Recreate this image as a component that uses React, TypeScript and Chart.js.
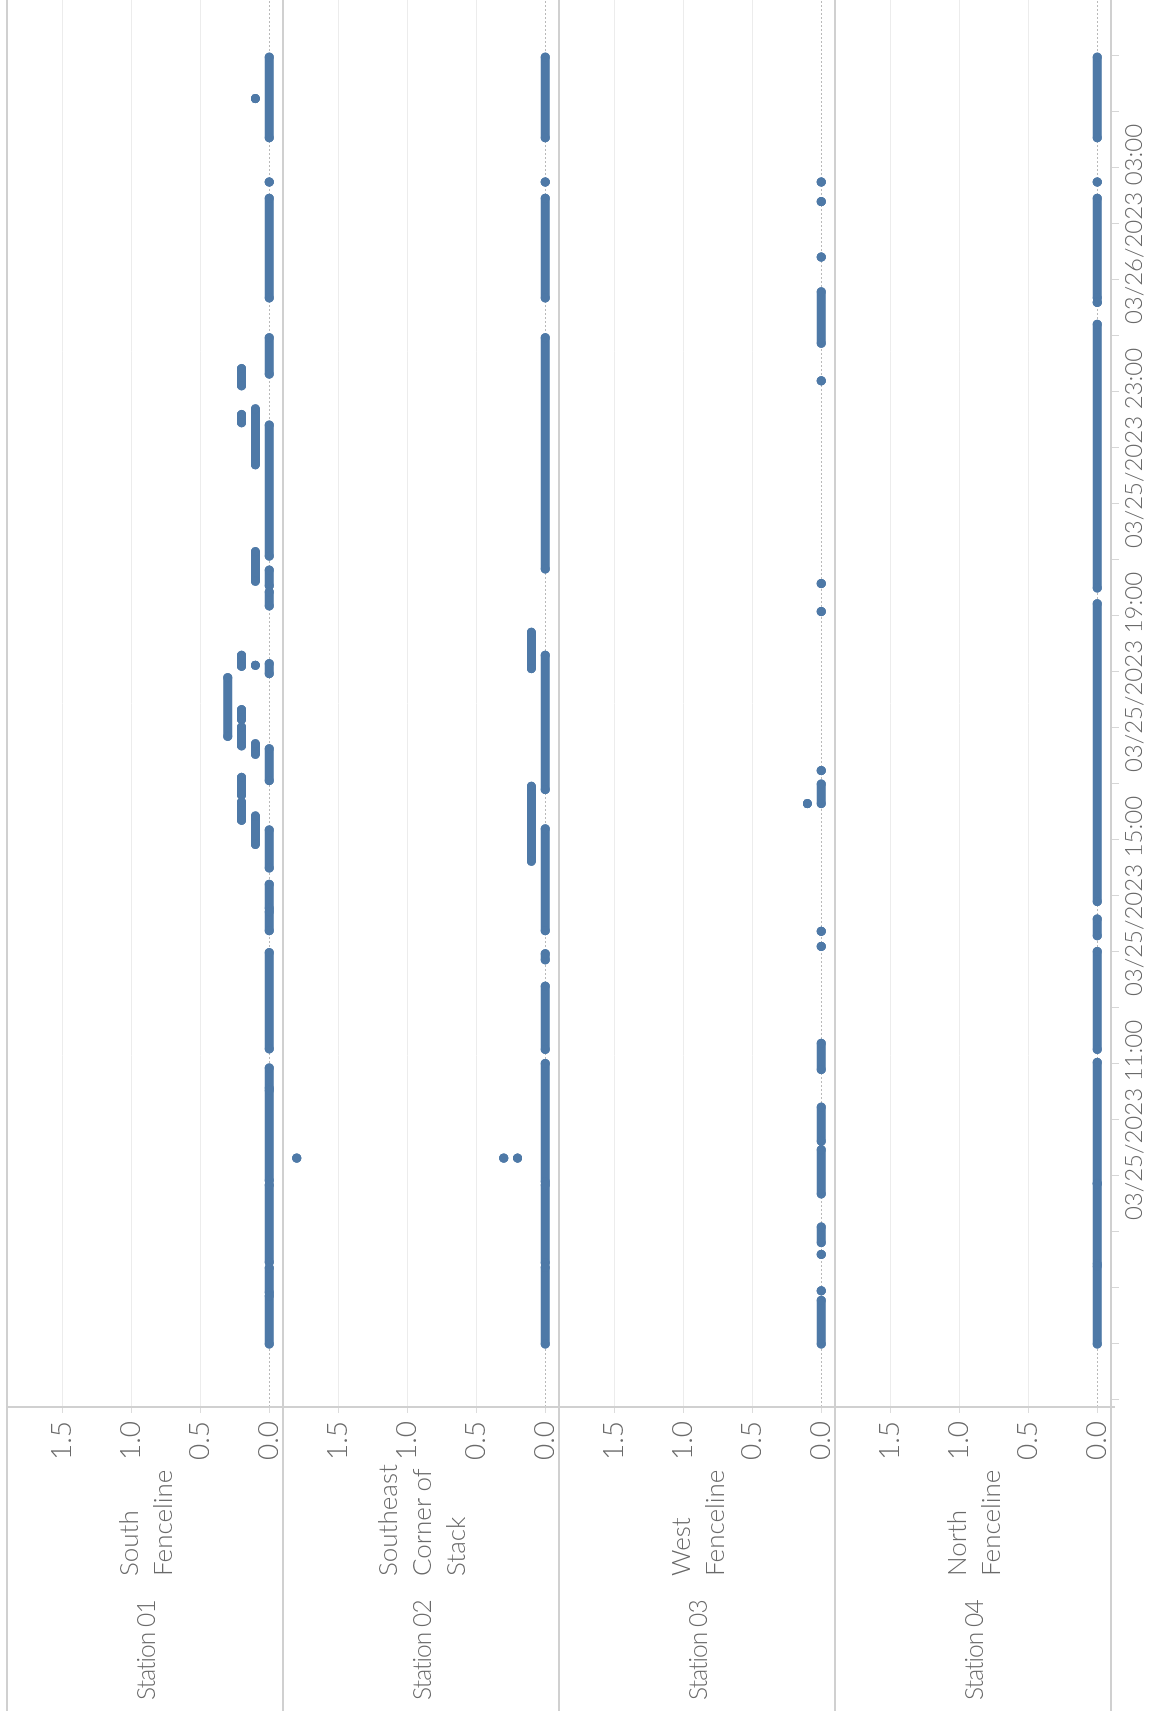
import React, { useEffect, useRef } from 'react';
import { Chart, registerables } from 'chart.js';

Chart.register(...registerables);

// ---------- DATA ----------
// Station headers
const STATION_IDS = ['Station 01', 'Station 02', 'Station 03', 'Station 04'];
const STATION_NAMES = [
  ['South', 'Fenceline'],
  ['Southeast', 'Corner of', 'Stack'],
  ['West', 'Fenceline'],
  ['North', 'Fenceline'],
];

// Readings as runs of equal value: [start hour, end hour, value]
// hours are counted from 03/25/2023 00:00 (so 27 = 03/26/2023 03:00)
const STATION_01_RUNS: [number, number, number][] = [
  [28.54, 29.98, 0], [29.24, 29.24, 0.1], [27.75, 27.75, 0], [25.68, 27.46, 0],
  [24.32, 24.97, 0], [24.11, 24.42, 0.2], [23.45, 23.6, 0.2], [22.7, 23.7, 0.1],
  [21.07, 23.41, 0], [20.62, 21.15, 0.1], [20.54, 20.82, 0], [20.18, 20.43, 0],
  [19.1, 19.3, 0.2], [19.12, 19.12, 0.1], [18.97, 19.15, 0], [17.85, 18.9, 0.3],
  [18.15, 18.33, 0.2], [17.68, 18.02, 0.2], [17.53, 17.72, 0.1], [17.06, 17.63, 0],
  [16.8, 17.12, 0.2], [16.35, 16.68, 0.2], [15.92, 16.43, 0.1], [15.5, 16.18, 0],
  [14.78, 15.21, 0], [14.38, 14.72, 0], [12.27, 13.99, 0], [11.57, 11.93, 0],
  [9.92, 11.53, 0], [8.46, 9.84, 0], [7.92, 8.36, 0], [7.0, 7.86, 0],
];
const STATION_02_RUNS: [number, number, number][] = [
  [28.54, 29.98, 0], [27.75, 27.75, 0], [25.68, 27.46, 0], [20.84, 24.97, 0],
  [19.06, 19.71, 0.1], [16.9, 19.3, 0], [15.62, 16.96, 0.1], [14.38, 16.2, 0],
  [13.86, 13.97, 0], [12.26, 13.39, 0], [9.9, 12.01, 0],
  [10.32, 10.32, 0.3], [10.32, 10.32, 0.2], [10.32, 10.32, 1.8],
  [8.45, 9.84, 0], [7.0, 8.37, 0],
];
const STATION_03_RUNS: [number, number, number][] = [
  [27.75, 27.75, 0], [27.4, 27.4, 0], [26.41, 26.41, 0], [24.87, 25.79, 0],
  [24.2, 24.2, 0], [20.58, 20.58, 0], [20.08, 20.08, 0], [17.24, 17.24, 0],
  [16.65, 17.0, 0], [16.65, 16.65, 0.1], [14.37, 14.37, 0], [14.1, 14.1, 0],
  [11.9, 12.37, 0], [10.62, 11.23, 0], [9.68, 10.47, 0], [8.81, 9.09, 0],
  [8.6, 8.6, 0], [7.95, 7.95, 0], [7.0, 7.78, 0],
];
const STATION_04_RUNS: [number, number, number][] = [
  [28.54, 29.98, 0], [27.75, 27.75, 0], [25.68, 27.46, 0], [25.6, 25.6, 0],
  [20.5, 25.21, 0], [14.9, 20.22, 0], [14.29, 14.59, 0], [12.26, 14.01, 0],
  [9.87, 12.03, 0], [8.43, 9.86, 0], [7.0, 8.39, 0],
];
const STATION_RUNS = [STATION_01_RUNS, STATION_02_RUNS, STATION_03_RUNS, STATION_04_RUNS];

// Axes
const VALUE_TICKS = [0, 0.5, 1.0, 1.5];
const VALUE_MIN = -0.1;
const VALUE_MAX = 1.9;
const TIME_MIN = 5.875;
const TIME_MAX = 31;
const TIME_TICK_HOURS = [6, 7, 8, 9, 10, 11, 12, 13, 14, 15, 16, 17, 18, 19, 20, 21, 22, 23, 24, 25, 26, 27, 28, 29, 30, 31];
const TIME_LABEL_HOURS = [11, 15, 19, 23, 27];
const TIME_LABELS = ['03/25/2023 11:00', '03/25/2023 15:00', '03/25/2023 19:00', '03/25/2023 23:00', '03/26/2023 03:00'];

// ---------- LAYOUT / STYLE ----------
const FRAME_W = 1720;
const FRAME_H = 1152;
const ROW_TOP0 = 7;
const ROW_H = 276;
const AXIS_W = 313;
const XAXIS_H = 41;
const BLUE = '#4e79a7';
const TEXT = '#6a6a6a';
const LINE = '#d0d0d0';
const FONT = 'Lato, "Open Sans", sans-serif';

function runsToPoints(runs: [number, number, number][]) {
  const pts: { x: number; y: number | null }[] = [];
  runs.forEach(([a, b, v]) => {
    pts.push({ x: a, y: v });
    pts.push({ x: b, y: v });
    pts.push({ x: b, y: null });
  });
  return pts;
}

function StationChart({ runs, showTime }: { runs: [number, number, number][]; showTime: boolean }) {
  const ref = useRef<HTMLCanvasElement | null>(null);
  useEffect(() => {
    if (!ref.current) return;
    const chart = new Chart(ref.current, {
      type: 'line',
      data: {
        datasets: [
          {
            data: runsToPoints(runs) as any,
            borderColor: BLUE,
            backgroundColor: BLUE,
            borderWidth: 9,
            borderCapStyle: 'round',
            borderJoinStyle: 'round',
            pointRadius: 4.5,
            pointHoverRadius: 4.5,
            pointBorderWidth: 0,
            pointBackgroundColor: BLUE,
            spanGaps: false,
            tension: 0,
          },
        ],
      },
      options: {
        animation: false,
        responsive: false,
        maintainAspectRatio: false,
        devicePixelRatio: 1,
        layout: { padding: 0, autoPadding: false },
        plugins: { legend: { display: false }, tooltip: { enabled: false } },
        events: [],
        scales: {
          x: {
            type: 'linear',
            min: TIME_MIN,
            max: TIME_MAX,
            display: showTime,
            afterBuildTicks: (s: any) => {
              s.ticks = TIME_TICK_HOURS.map((v) => ({ value: v }));
            },
            afterFit: (s: any) => {
              if (showTime) s.height = XAXIS_H;
              s.paddingLeft = 0;
              s.paddingRight = 0;
            },
            grid: { drawOnChartArea: false, drawTicks: true, tickLength: 8, color: '#d6d6d6' },
            border: { display: false },
            ticks: {
              autoSkip: false,
              maxRotation: 0,
              minRotation: 0,
              padding: 1,
              color: TEXT,
              font: { family: FONT, size: 24, weight: '300' },
              callback: (v: any) => {
                const i = TIME_LABEL_HOURS.indexOf(Number(v));
                return i >= 0 ? TIME_LABELS[i] : '';
              },
            },
          },
          y: {
            type: 'linear',
            min: VALUE_MIN,
            max: VALUE_MAX,
            afterBuildTicks: (s: any) => {
              s.ticks = VALUE_TICKS.map((v) => ({ value: v }));
            },
            afterFit: (s: any) => {
              s.width = AXIS_W;
              s.paddingTop = 0;
              s.paddingBottom = 0;
            },
            grid: {
              drawTicks: true,
              tickLength: 6,
              color: (c: any) => (c.tick && c.tick.value === 0 ? '#b9b9b9' : '#ececec'),
              tickColor: '#dcdcdc',
              lineWidth: 1,
            },
            border: {
              display: false,
              dash: (c: any) => (c.tick && c.tick.value === 0 ? [2, 2] : []),
            },
            ticks: {
              padding: 8,
              color: TEXT,
              font: { family: FONT, size: 28, weight: '300' },
              callback: (v: any) => Number(v).toFixed(1),
            },
          },
        },
      } as any,
    });
    return () => chart.destroy();
  }, [runs, showTime]);
  const h = showTime ? ROW_H + XAXIS_H : ROW_H;
  return <canvas ref={ref} width={FRAME_W} height={h} style={{ display: 'block', width: FRAME_W, height: h }} />;
}

export default function App() {
  const rows = STATION_IDS.map((_, k) => ROW_TOP0 + k * ROW_H);
  const bottom = ROW_TOP0 + 4 * ROW_H;
  return (
    <div
      style={{
        position: 'fixed',
        left: 0,
        top: 0,
        width: FRAME_H,
        height: FRAME_W,
        overflow: 'hidden',
        background: '#fff',
      }}
    >
      <div
        style={{
          position: 'absolute',
          left: 0,
          top: 0,
          width: FRAME_W,
          height: FRAME_H,
          transformOrigin: '0 0',
          transform: `translateY(${FRAME_W}px) rotate(-90deg)`,
          fontFamily: FONT,
          fontWeight: 300,
          color: TEXT,
        }}
      >
        {STATION_RUNS.map((runs, k) => (
          <div key={'c' + k} style={{ position: 'absolute', left: 0, top: rows[k] }}>
            <StationChart runs={runs} showTime={k === 3} />
          </div>
        ))}
        {STATION_IDS.map((id, k) => (
          <div
            key={'id' + k}
            style={{
              position: 'absolute',
              left: 20,
              top: rows[k],
              height: ROW_H,
              display: 'flex',
              alignItems: 'center',
              whiteSpace: 'nowrap',
              fontSize: 24.5,
              letterSpacing: -0.9,
            }}
          >
            {id}
          </div>
        ))}
        {STATION_NAMES.map((lines, k) => (
          <div
            key={'nm' + k}
            style={{
              position: 'absolute',
              left: 144,
              top: rows[k],
              height: ROW_H,
              display: 'flex',
              alignItems: 'center',
              whiteSpace: 'nowrap',
              fontSize: 26,
            }}
          >
            <div style={{ lineHeight: '34px' }}>
              {lines.map((l, i) => (
                <div key={i}>{l}</div>
              ))}
            </div>
          </div>
        ))}
        {[...rows, bottom].map((y, i) => (
          <div
            key={'h' + i}
            style={{ position: 'absolute', left: 9, top: y - 1, width: FRAME_W - 9, height: 2, background: LINE }}
          />
        ))}
        <div
          style={{
            position: 'absolute',
            left: AXIS_W - 1,
            top: ROW_TOP0,
            width: 2,
            height: bottom - ROW_TOP0 + 4,
            background: LINE,
          }}
        />
      </div>
    </div>
  );
}
